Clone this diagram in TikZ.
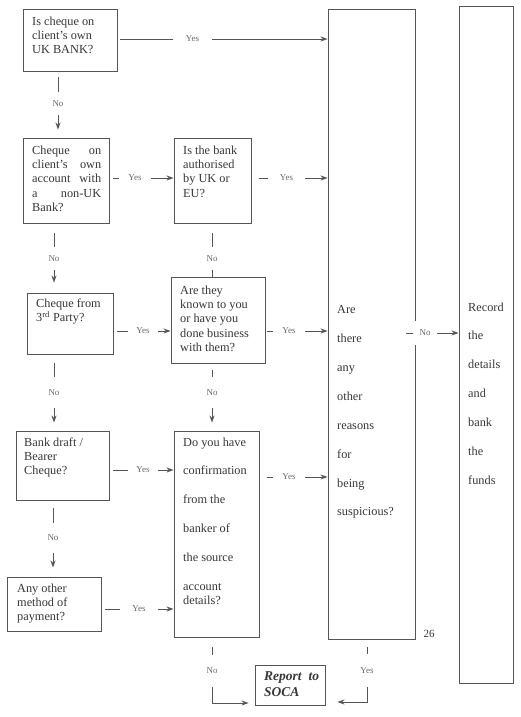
\documentclass[tikz,border=0pt]{standalone}
\usepackage{fontspec}
\setmainfont{Liberation Serif}
\usetikzlibrary{arrows.meta,fit}
\definecolor{lncol}{HTML}{555555}
\definecolor{txcol}{HTML}{383838}
\definecolor{lbcol}{HTML}{6A6A6A}
\begin{document}
\begin{tikzpicture}[x=1pt,y=-1pt,
  box/.style={draw=lncol, line width=0.9pt, inner sep=0pt},
  txt/.style={anchor=north west, inner sep=0pt, align=left, text=txcol, font=\fontsize{12.3}{14.4}\selectfont},
  lab/.style={inner sep=0pt, text=lbcol, font=\fontsize{9}{9}\selectfont},
  wire/.style={draw=lncol, line width=0.9pt},
  arr/.style={wire, -{Stealth[length=7pt,width=5pt]}},
]
\fill[white] (0,0) rectangle (520,717);
\useasboundingbox (0,0) rectangle (520,717);

% boxes
\node[box, fit={(23,9) (117,71)}] (b1) {};
\node[box, fit={(23,138) (109,223)}] (b2) {};
\node[box, fit={(174,138) (251,223)}] (auth) {};
\node[box, fit={(27,293) (113,354)}] (b3) {};
\node[box, fit={(171,277) (265,363)}] (known) {};
\node[box, fit={(16,431) (109,500)}] (b4) {};
\node[box, fit={(174,431) (259,637)}] (b5) {};
\node[box, fit={(7,577) (101,631)}] (b6) {};
\node[box, fit={(255,665) (325,705)}] (rep) {};
\node[box, fit={(328,9) (415,639)}] (big) {};
\node[box, fit={(459,6) (513,683)}] (rec) {};

% texts
\node[txt] (b1t) at (32,16.3) {Is cheque on\\client’s own\\UK BANK?};
\node[txt, text width=69pt] (b2t) at (32,145.3) {Cheque \hfill on\\client’s \hfill own\\account \hfill with\\a \hfill non-UK\\Bank?};
\node[txt] (autht) at (183,145.3) {Is the bank\\authorised\\by UK or\\EU?};
\node[txt] (b3t) at (36,298.3) {Cheque from\\3\textsuperscript{rd} Party?};
\node[txt] (knownt) at (180,285.3) {Are they\\known to you\\or have you\\done business\\with them?};
\node[txt] (b4t) at (24,437.3) {Bank draft /\\Bearer\\Cheque?};
\node[txt] (b5t) at (183,437.3) {Do you have\\[14.5pt]confirmation\\[14.5pt]from the\\[14.5pt]banker of\\[14.5pt]the source\\[14.5pt]account\\details?};
\node[txt] (b6t) at (17,583.3) {Any other\\method of\\payment?};
\node[txt, text width=55pt, font=\fontsize{13.5}{16}\selectfont\bfseries\itshape] (rept) at (264,671) {Report \hfill to\\SOCA};
\node[txt] (bigt) at (337,305.3) {Are\\[14.5pt]there\\[14.5pt]any\\[14.5pt]other\\[14.5pt]reasons\\[14.5pt]for\\[14.5pt]being\\[14.5pt]suspicious?};
\node[txt] (rect) at (468,302.3) {Record\\[14.5pt]the\\[14.5pt]details\\[14.5pt]and\\[14.5pt]bank\\[14.5pt]the\\[14.5pt]funds};
\node[txt, anchor=center, font=\fontsize{11}{11}\selectfont] (pg) at (429,634) {26};

% horizontal Yes connectors
\node[lab, minimum width=39pt] (y1) at (192.5,39) {Yes};
\draw[wire, shorten <=3pt] (b1.east |- y1) -- (y1.west);
\draw[arr] (y1.east) -- (big.west |- y1);

\node[lab, minimum width=32pt] (y2) at (135,178) {Yes};
\draw[wire, shorten <=4pt] (b2.east |- y2) -- (y2.west);
\draw[arr] (y2.east) -- (auth.west |- y2);

\node[lab, minimum width=37pt] (y3) at (286.5,178) {Yes};
\draw[wire, shorten <=8pt] (auth.east |- y3) -- (y3.west);
\draw[arr] (y3.east) -- (big.west |- y3);

\node[lab, minimum width=30pt] (y4) at (143,331) {Yes};
\draw[wire, shorten <=4pt] (b3.east |- y4) -- (y4.west);
\draw[arr] (y4.east) -- (known.west |- y4);

\node[lab, minimum width=32pt] (y5) at (289,331) {Yes};
\draw[wire, shorten <=2pt] (known.east |- y5) -- (y5.west);
\draw[arr] (y5.east) -- (big.west |- y5);

\node[lab, minimum width=30pt] (y6) at (143,470) {Yes};
\draw[wire, shorten <=4pt] (b4.east |- y6) -- (y6.west);
\draw[arr] (y6.east) -- (b5.west |- y6);

\node[lab, minimum width=32pt] (y7) at (289,477) {Yes};
\draw[wire, shorten <=8pt] (b5.east |- y7) -- (y7.west);
\draw[arr] (y7.east) -- (big.west |- y7);

\node[lab, minimum width=38pt] (y8) at (139,609) {Yes};
\draw[wire, shorten <=4pt] (b6.east |- y8) -- (y8.west);
\draw[arr] (y8.east) -- (b5.west |- y8);

% No from big box to record
\node[lab, fill=white, minimum width=24pt, minimum height=24pt] (nR) at (425,333) {No};
\draw[wire] ([xshift=-9pt]big.east |- nR) -- (nR.west);
\draw[arr] (nR.east) -- (rec.west |- nR);

% vertical No connectors, left column
\node[lab, minimum height=23pt] (n1) at (58,103.5) {No};
\draw[wire, shorten <=6pt] (n1 |- b1.south) -- (n1.north);
\draw[arr, shorten >=8pt] (n1.south) -- (n1 |- b2.north);

\node[lab, minimum height=23pt] (n2) at (54,258.5) {No};
\draw[wire, shorten <=10pt] (n2 |- b2.south) -- (n2.north);
\draw[arr, shorten >=10pt] (n2.south) -- (n2 |- b3.north);

\node[lab, minimum height=31pt] (n3) at (54,392.5) {No};
\draw[wire, shorten <=9pt] (n3 |- b3.south) -- (n3.north);
\draw[arr, shorten >=8pt] (n3.south) -- (n3 |- b4.north);

\node[lab, minimum height=30pt] (n4) at (53,538) {No};
\draw[wire, shorten <=8pt] (n4 |- b4.south) -- (n4.north);
\draw[arr, shorten >=9pt] (n4.south) -- (n4 |- b6.north);

% middle column
\node[lab, minimum height=23pt] (n5) at (212,258.5) {No};
\draw[wire, shorten <=10pt] (n5 |- auth.south) -- (n5.north);
\draw[wire] (n5.south) -- (n5 |- known.north);

\node[lab, minimum height=31pt] (n6) at (212,392.5) {No};
\draw[wire, shorten <=7pt] (n6 |- known.south) -- (n6.north);
\draw[arr, shorten >=8pt] (n6.south) -- (n6 |- b5.north);

\node[lab, minimum height=32pt] (n7) at (212,671) {No};
\draw[wire, shorten <=10pt] (n7 |- b5.south) -- (n7.north);
\coordinate (jL) at (212,703);
\draw[arr] (n7.south) -- (jL) -- ([xshift=-6pt]rep.west |- jL);

% big box Yes to report
\node[lab, minimum height=33pt] (y9) at (367,670.5) {Yes};
\draw[wire, shorten <=8pt] (y9 |- big.south) -- (y9.north);
\coordinate (jR) at (367,702);
\draw[arr] (y9.south) -- (jR) -- ([xshift=12pt]rep.east |- jR);
\end{tikzpicture}
\end{document}
